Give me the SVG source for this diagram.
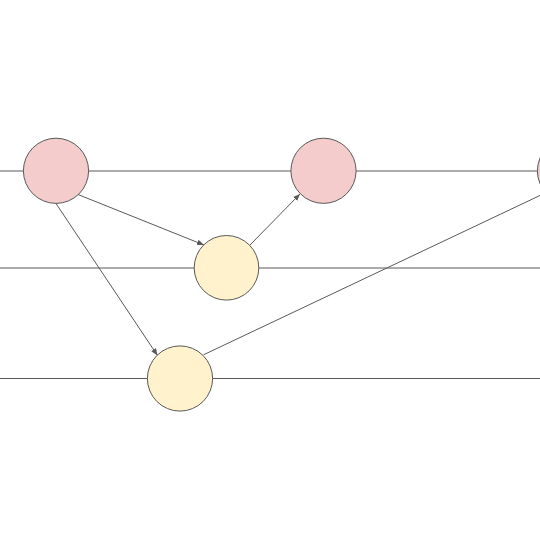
<svg xmlns="http://www.w3.org/2000/svg" width="540" height="540" viewBox="0 0 540 540">
<style>
.ln{stroke:#595959;stroke-width:1;fill:none}
.pk{fill:#f4cccc;stroke:#595959;stroke-width:1}
.yl{fill:#fff2cc;stroke:#595959;stroke-width:1}
</style>
<defs>
<marker id="ah" viewBox="0 0 10 10" refX="10" refY="5" markerWidth="7" markerHeight="7" orient="auto" markerUnits="userSpaceOnUse">
<path d="M0,1 L10,5 L0,9 z" fill="#595959"/>
</marker>
</defs>
<rect width="540" height="540" fill="#fff"/>
<g id="connectors">
<line class="ln" x1="0" y1="171" x2="540" y2="171"/>
<line class="ln" x1="0" y1="268" x2="540" y2="268"/>
<line class="ln" x1="0" y1="378.5" x2="540" y2="378.5"/>
<line class="ln" x1="78" y1="194.5" x2="204" y2="245" marker-end="url(#ah)"/>
<line class="ln" x1="56" y1="203.5" x2="157.5" y2="355.5" marker-end="url(#ah)"/>
<line class="ln" x1="250" y1="245" x2="300" y2="194" marker-end="url(#ah)"/>
<line class="ln" x1="203.5" y1="354.8" x2="541" y2="195"/>
</g>
<g id="n1"><circle class="pk" cx="56" cy="170.8" r="32.6"/></g>
<g id="n2"><circle class="pk" cx="323.5" cy="170.8" r="32.6"/></g>
<g id="n3"><circle class="pk" cx="570" cy="170.8" r="32.6"/></g>
<g id="n4"><circle class="yl" cx="226.5" cy="267.8" r="32.3"/></g>
<g id="n5"><circle class="yl" cx="180" cy="378.5" r="32.6"/></g>
</svg>
